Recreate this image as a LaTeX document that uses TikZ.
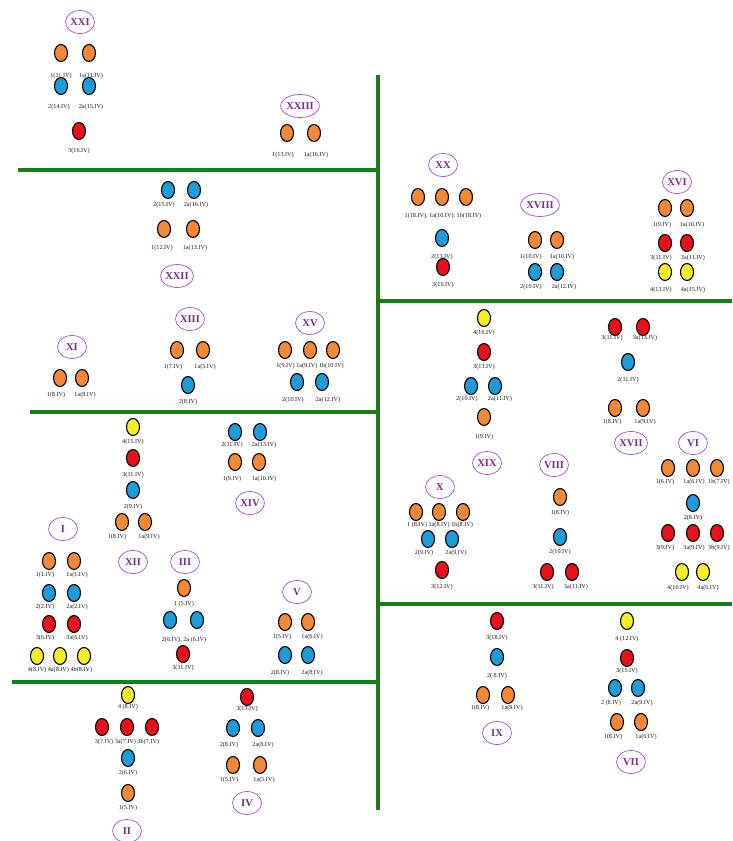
\documentclass[tikz,border=0pt]{standalone}
\usepackage{fontspec}
\setmainfont{Liberation Serif}
\usetikzlibrary{shapes.geometric}
\definecolor{gorange}{HTML}{F0893A}
\definecolor{gblue}{HTML}{1F9BD8}
\definecolor{gred}{HTML}{E5121B}
\definecolor{gyellow}{HTML}{F4EE2A}
\definecolor{ggreen}{HTML}{1C7A1C}
\definecolor{gpurple}{HTML}{A050C8}
\definecolor{gptext}{HTML}{7A2A8C}
\tikzset{
  dot/.style={ellipse,draw=black,line width=1.1pt,minimum width=13pt,minimum height=17pt,inner sep=0pt},
  orn/.style={dot,fill=gorange},
  blu/.style={dot,fill=gblue},
  rd/.style={dot,fill=gred},
  yel/.style={dot,fill=gyellow},
  lab/.style={inner sep=0pt,font=\fontsize{6.2}{7}\selectfont,text=black!90},
  grp/.style={ellipse,draw=gpurple,line width=0.7pt,minimum width=29pt,minimum height=23pt,inner sep=0pt,text=gptext,font=\fontsize{10.5}{11}\selectfont\bfseries},
  wall/.style={draw=ggreen,line width=4.5pt}
}
\begin{document}
\begin{tikzpicture}[x=1pt,y=-1pt]
\useasboundingbox[fill=white] (0,0) rectangle (732,841);
% green partitions
\draw[wall] (18,170) -- (378,170);
\draw[wall] (378,75) -- (378,810);
\draw[wall] (378,301) -- (732,301);
\draw[wall] (30,412) -- (378,412);
\draw[wall] (378,604) -- (732,604);
\draw[wall] (12,682) -- (378,682);
% XXI
\node[grp] (gXXI) at (80,22) {XXI};
\node[orn] (a1) at (61,53) {}; \node[orn] (a2) at (89,53) {};
\node[lab] (la1) at (61,76) {1(11.IV)}; \node[lab] (la2) at (91,76) {1a(11.IV)};
\node[blu] (a3) at (61,86) {}; \node[blu] (a4) at (89,86) {};
\node[lab] (la3) at (59,107) {2(14.IV)}; \node[lab] (la4) at (91,107) {2a(15.IV)};
\node[rd] (a5) at (79,131) {};
\node[lab] (la5) at (79,151) {3(16.IV)};
% XXIII
\node[grp] (gXXIII) at (300,106) {XXIII};
\node[orn] (b1) at (287,133) {}; \node[orn] (b2) at (314,133) {};
\node[lab] (lb1) at (283,155) {1(13.IV)}; \node[lab] (lb2) at (316,155) {1a(16.IV)};
% XXII
\node[blu] (c1) at (168,190) {}; \node[blu] (c2) at (194,190) {};
\node[lab] (lc1) at (164,205) {2(15.IV)}; \node[lab] (lc2) at (196,205) {2a(16.IV)};
\node[orn] (c3) at (164,229) {}; \node[orn] (c4) at (193,229) {};
\node[lab] (lc3) at (162,248) {1(12.IV)}; \node[lab] (lc4) at (195,248) {1a(13.IV)};
\node[grp] (gXXII) at (177,276) {XXII};
% XX
\node[grp] (gXX) at (443,165) {XX};
\node[orn] (d1) at (418,197) {}; \node[orn] (d2) at (442,197) {}; \node[orn] (d3) at (466,197) {};
\node[lab] (ld1) at (443,216) {1(18.IV), 1a(10.IV), 1b(18.IV)};
\node[blu] (d4) at (442,238) {};
\node[lab] (ld4) at (442,257) {2(13.IV)};
\node[rd] (d5) at (443,267) {};
\node[lab] (ld5) at (443,285) {3(16.IV)};
% XVIII
\node[grp] (gXVIII) at (540,205) {XVIII};
\node[orn] (e1) at (535,240) {}; \node[orn] (e2) at (557,240) {};
\node[lab] (le1) at (531,257) {1(10.IV)}; \node[lab] (le2) at (562,257) {1a(10.IV)};
\node[blu] (e3) at (535,272) {}; \node[blu] (e4) at (557,272) {};
\node[lab] (le3) at (531,287) {2(10.IV)}; \node[lab] (le4) at (564,287) {2a(12.IV)};
% XVI
\node[grp] (gXVI) at (677,182) {XVI};
\node[orn] (f1) at (665,208) {}; \node[orn] (f2) at (687,208) {};
\node[lab] (lf1) at (662,225) {1(9.IV)}; \node[lab] (lf2) at (692,225) {1a(10.IV)};
\node[rd] (f3) at (665,243) {}; \node[rd] (f4) at (687,243) {};
\node[lab] (lf3) at (661,258) {3(11.IV)}; \node[lab] (lf4) at (693,258) {3a(11.IV)};
\node[yel] (f5) at (665,272) {}; \node[yel] (f6) at (687,272) {};
\node[lab] (lf5) at (661,290) {4(13.IV)}; \node[lab] (lf6) at (693,290) {4a(15.IV)};
% XI
\node[grp] (gXI) at (72,347) {XI};
\node[orn] (g1) at (60,378) {}; \node[orn] (g2) at (82,378) {};
\node[lab] (lg1) at (56,395) {1(8.IV)}; \node[lab] (lg2) at (85,395) {1a(8.IV)};
% XIII
\node[grp] (gXIII) at (190,319) {XIII};
\node[orn] (h1) at (177,350) {}; \node[orn] (h2) at (203,350) {};
\node[lab] (lh1) at (173,367) {1(7.IV)}; \node[lab] (lh2) at (205,367) {1a(5.IV)};
\node[blu] (h3) at (188,385) {};
\node[lab] (lh3) at (188,402) {2(8.IV)};
% XV
\node[grp] (gXV) at (310,323) {XV};
\node[orn] (i1) at (285,350) {}; \node[orn] (i2) at (310,350) {}; \node[orn] (i3) at (333,350) {};
\node[lab] (li1) at (310,366) {1(9.IV) 1a(9.IV) 1b(10.IV)};
\node[blu] (i4) at (297,382) {}; \node[blu] (i5) at (322,382) {};
\node[lab] (li4) at (293,400) {2(10.IV)}; \node[lab] (li5) at (328,400) {2a(12.IV)};
% XII
\node[yel] (j1) at (133,427) {};
\node[lab] (lj1) at (133,442) {4(15.IV)};
\node[rd] (j2) at (133,458) {};
\node[lab] (lj2) at (133,475) {3(11.IV)};
\node[blu] (j3) at (133,490) {};
\node[lab] (lj3) at (133,507) {2(9.IV)};
\node[orn] (j4) at (122,522) {}; \node[orn] (j5) at (145,522) {};
\node[lab] (lj4) at (117,537) {1(8.IV)}; \node[lab] (lj5) at (149,537) {1a(9.IV)};
\node[grp] (gXII) at (133,562) {XII};
% XIV
\node[blu] (k1) at (235,432) {}; \node[blu] (k2) at (260,432) {};
\node[lab] (lk1) at (232,445) {2(11.IV)}; \node[lab] (lk2) at (264,445) {2a(13.IV)};
\node[orn] (k3) at (235,462) {}; \node[orn] (k4) at (259,462) {};
\node[lab] (lk3) at (232,479) {1(9.IV)}; \node[lab] (lk4) at (264,479) {1a(10.IV)};
\node[grp] (gXIV) at (250,503) {XIV};
% I
\node[grp] (gI) at (63,529) {I};
\node[orn] (m1) at (49,561) {}; \node[orn] (m2) at (74,561) {};
\node[lab] (lm1) at (45,575) {1(1.IV)}; \node[lab] (lm2) at (77,575) {1a(1.IV)};
\node[blu] (m3) at (49,593) {}; \node[blu] (m4) at (74,593) {};
\node[lab] (lm3) at (45,607) {2(2.IV)}; \node[lab] (lm4) at (77,607) {2a(2.IV)};
\node[rd] (m5) at (49,624) {}; \node[rd] (m6) at (74,624) {};
\node[lab] (lm5) at (45,638) {3(6.IV)}; \node[lab] (lm6) at (77,638) {3a(6.IV)};
\node[yel] (m7) at (37,656) {}; \node[yel] (m8) at (60,656) {}; \node[yel] (m9) at (84,656) {};
\node[lab] (lm7) at (60,670) {4(8.IV) 4a(8.IV) 4b(8.IV)};
% III
\node[grp] (gIII) at (185,562) {III};
\node[orn] (n1) at (184,588) {};
\node[lab] (ln1) at (184,604) {1 (5.IV)};
\node[blu] (n2) at (170,620) {}; \node[blu] (n3) at (197,620) {};
\node[lab] (ln2) at (184,640) {2(6.IV), 2a (6.IV)};
\node[rd] (n4) at (183,654) {};
\node[lab] (ln4) at (183,668) {3(11.IV)};
% V
\node[grp] (gV) at (297,592) {V};
\node[orn] (o1) at (285,622) {}; \node[orn] (o2) at (308,622) {};
\node[lab] (lo1) at (282,637) {1(5.IV)}; \node[lab] (lo2) at (312,637) {1a(6.IV)};
\node[blu] (o3) at (285,655) {}; \node[blu] (o4) at (308,655) {};
\node[lab] (lo3) at (280,673) {2(8.IV)}; \node[lab] (lo4) at (312,673) {2a(8.IV)};
% II
\node[yel] (p1) at (128,695) {};
\node[lab] (lp1) at (128,707) {4 (8.IV)};
\node[rd] (p2) at (102,727) {}; \node[rd] (p3) at (127,727) {}; \node[rd] (p4) at (152,727) {};
\node[lab] (lp2) at (127,742) {3(7.IV) 3a(7.IV) 3b(7.IV)};
\node[blu] (p5) at (128,758) {};
\node[lab] (lp5) at (128,773) {2(6.IV)};
\node[orn] (p6) at (128,793) {};
\node[lab] (lp6) at (128,808) {1(5.IV)};
\node[grp] (gII) at (127,831) {II};
% IV
\node[rd] (q1) at (247,697) {};
\node[lab] (lq1) at (247,709) {3(13.IV)};
\node[blu] (q2) at (233,728) {}; \node[blu] (q3) at (258,728) {};
\node[lab] (lq2) at (229,745) {2(8.IV)}; \node[lab] (lq3) at (263,745) {2a(8.IV)};
\node[orn] (q4) at (233,765) {}; \node[orn] (q5) at (260,765) {};
\node[lab] (lq4) at (229,780) {1(5.IV)}; \node[lab] (lq5) at (264,780) {1a(5.IV)};
\node[grp] (gIV) at (247,803) {IV};
% XIX
\node[yel] (r1) at (484,318) {};
\node[lab] (lr1) at (484,333) {4(16.IV)};
\node[rd] (r2) at (484,352) {};
\node[lab] (lr2) at (484,367) {3(13.IV)};
\node[blu] (r3) at (471,386) {}; \node[blu] (r4) at (495,386) {};
\node[lab] (lr3) at (467,399) {2(10.IV)}; \node[lab] (lr4) at (500,399) {2a(11.IV)};
\node[orn] (r5) at (484,417) {};
\node[lab] (lr5) at (484,437) {1(9.IV)};
\node[grp] (gXIX) at (487,463) {XIX};
% XVII
\node[rd] (s1) at (615,327) {}; \node[rd] (s2) at (643,327) {};
\node[lab] (ls1) at (612,338) {3(11.IV)}; \node[lab] (ls2) at (645,338) {3a(13.IV)};
\node[blu] (s3) at (628,362) {};
\node[lab] (ls3) at (628,380) {2(11.IV)};
\node[orn] (s4) at (615,408) {}; \node[orn] (s5) at (643,408) {};
\node[lab] (ls4) at (612,422) {1(8.IV)}; \node[lab] (ls5) at (645,422) {1a(9.IV)};
\node[grp] (gXVII) at (631,443) {XVII};
% X
\node[grp] (gX) at (440,487) {X};
\node[orn] (t1) at (416,512) {}; \node[orn] (t2) at (439,512) {}; \node[orn] (t3) at (463,512) {};
\node[lab] (lt1) at (440,525) {1 (8.IV) 1a(8.IV) 1b(8.IV)};
\node[blu] (t4) at (428,539) {}; \node[blu] (t5) at (452,539) {};
\node[lab] (lt4) at (424,553) {2(9.IV)}; \node[lab] (lt5) at (456,553) {2a(9.IV)};
\node[rd] (t6) at (442,570) {};
\node[lab] (lt6) at (442,587) {3(12.IV)};
% VIII
\node[grp] (gVIII) at (554,465) {VIII};
\node[orn] (u1) at (560,497) {};
\node[lab] (lu1) at (560,513) {1(8.IV)};
\node[blu] (u2) at (560,537) {};
\node[lab] (lu2) at (560,552) {2(10.IV)};
\node[rd] (u3) at (547,572) {}; \node[rd] (u4) at (572,572) {};
\node[lab] (lu3) at (543,587) {3(11.IV)}; \node[lab] (lu4) at (576,587) {3a(11.IV)};
% VI
\node[grp] (gVI) at (693,443) {VI};
\node[orn] (v1) at (668,468) {}; \node[orn] (v2) at (693,468) {}; \node[orn] (v3) at (717,468) {};
\node[lab] (lv1) at (665,482) {1(6.IV)}; \node[lab] (lv2) at (694,482) {1a(6.IV)}; \node[lab] (lv3) at (719,482) {1b(7.IV)};
\node[blu] (v4) at (693,503) {};
\node[lab] (lv4) at (693,518) {2(8.IV)};
\node[rd] (v5) at (668,533) {}; \node[rd] (v6) at (693,533) {}; \node[rd] (v7) at (717,533) {};
\node[lab] (lv5) at (665,548) {3(9.IV)}; \node[lab] (lv6) at (694,548) {3a(9.IV)}; \node[lab] (lv7) at (719,548) {3b(9.IV)};
\node[yel] (v8) at (682,572) {}; \node[yel] (v9) at (703,572) {};
\node[lab] (lv8) at (678,588) {4(10.IV)}; \node[lab] (lv9) at (708,588) {4a(6.IV)};
% IX
\node[rd] (w1) at (497,621) {};
\node[lab] (lw1) at (497,638) {3(18.IV)};
\node[blu] (w2) at (497,657) {};
\node[lab] (lw2) at (497,676) {2( 8.IV)};
\node[orn] (w3) at (483,695) {}; \node[orn] (w4) at (508,695) {};
\node[lab] (lw3) at (480,708) {1(8.IV)}; \node[lab] (lw4) at (512,708) {1a(9.IV)};
\node[grp] (gIX) at (497,733) {IX};
% VII
\node[yel] (y1) at (627,621) {};
\node[lab] (ly1) at (627,639) {4 (12.IV)};
\node[rd] (y2) at (627,658) {};
\node[lab] (ly2) at (627,671) {3(15.IV)};
\node[blu] (y3) at (615,688) {}; \node[blu] (y4) at (638,688) {};
\node[lab] (ly3) at (611,703) {2 (8.IV)}; \node[lab] (ly4) at (642,703) {2a(9.IV)};
\node[orn] (y5) at (617,722) {}; \node[orn] (y6) at (641,722) {};
\node[lab] (ly5) at (613,737) {1(8.IV)}; \node[lab] (ly6) at (646,737) {1a(6.IV)};
\node[grp] (gVII) at (631,762) {VII};
\end{tikzpicture}
\end{document}
